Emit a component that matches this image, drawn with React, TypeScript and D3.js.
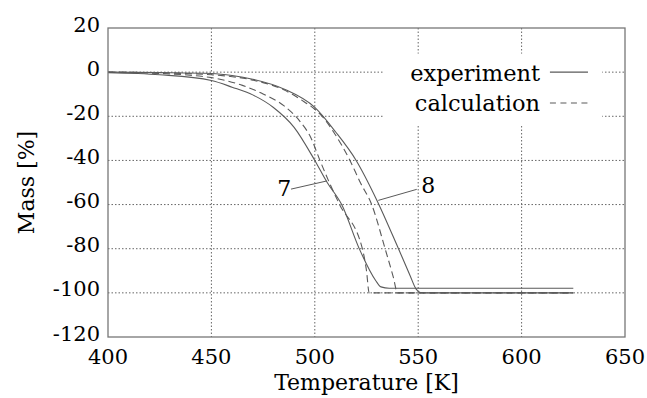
import * as d3 from "d3";

// experiment (solid) and calculation (dashed) curves
const tempExp7 = [400, 425, 450, 460, 470, 480, 490, 500, 506, 513, 521.5, 529.5, 532, 536, 625];
const massExp7 = [-0.3, -1.2, -3.8, -6.8, -10.3, -16, -25, -40, -50, -60, -80, -94.5, -97.3, -97.9, -97.9];

const tempCalc7 = [400, 425, 450, 465, 475, 485, 493, 498, 502.5, 507, 512, 523, 525, 526.3, 625];
const massCalc7 = [0, -0.6, -2.5, -6, -9.9, -15.2, -22.5, -29.5, -40, -50, -60, -80, -90, -100, -100];

const tempExp8 = [400, 425, 450, 460, 470, 485, 500, 510, 520, 530, 540, 546, 549, 551, 553, 625];
const massExp8 = [0, -0.2, -0.6, -1.5, -3.2, -7.6, -16, -27, -40, -58, -79, -92, -98.3, -99.8, -100, -100];

const tempCalc8 = [400, 425, 450, 470, 485, 495, 500, 504, 509, 517, 522, 527.5, 534, 538, 540, 625];
const massCalc8 = [0, -0.3, -1.2, -3.6, -8, -13.5, -16.8, -20.5, -27, -40, -50, -60, -80, -93, -100, -100];

const xTicks = [400, 450, 500, 550, 600, 650];
const yTicks = [20, 0, -20, -40, -60, -80, -100, -120];

const legendItems = ["experiment", "calculation"];

const width = 647;
const height = 398;
const margin = { top: 28, right: 22, bottom: 61, left: 108 };
const innerWidth = width - margin.left - margin.right;
const innerHeight = height - margin.top - margin.bottom;

const font = "'DejaVu Serif', 'Liberation Serif', serif";
const curveColor = "#5a5a5a";
const textColor = "#000";

const App = () => {
  const xScale = d3.scaleLinear().domain([400, 650]).range([0, innerWidth]);
  const yScale = d3.scaleLinear().domain([-120, 20]).range([innerHeight, 0]);

  const line = d3
    .line<[number, number]>()
    .x((d) => xScale(d[0]))
    .y((d) => yScale(d[1]))
    .curve(d3.curveMonotoneX);

  const zip = (t: number[], m: number[]) =>
    t.map((v, i) => [v, m[i]] as [number, number]);

  const curves = [
    { pts: zip(tempExp7, massExp7), dash: "none" },
    { pts: zip(tempCalc7, massCalc7), dash: "7,4" },
    { pts: zip(tempExp8, massExp8), dash: "none" },
    { pts: zip(tempCalc8, massCalc8), dash: "7,4" },
  ];

  return (
    <div style={{ position: "fixed", left: 0, top: 0 }}>
      <svg width={width} height={height} style={{ background: "#fff", display: "block" }}>
        <g transform={`translate(${margin.left},${margin.top})`}>
          {/* grid */}
          {yTicks.slice(1, -1).map((t) => (
            <line
              key={"gy" + t}
              x1={0}
              x2={innerWidth}
              y1={yScale(t)}
              y2={yScale(t)}
              stroke="#666"
              strokeWidth={1}
              strokeDasharray="1.5,2"
            />
          ))}
          {xTicks.slice(1, -1).map((t) => (
            <line
              key={"gx" + t}
              x1={xScale(t)}
              x2={xScale(t)}
              y1={0}
              y2={innerHeight}
              stroke="#666"
              strokeWidth={1}
              strokeDasharray="1.5,2"
            />
          ))}

          {/* legend background */}
          <rect
            x={xScale(533)}
            y={yScale(8.4)}
            width={xScale(639) - xScale(533)}
            height={yScale(-24.3) - yScale(8.4)}
            fill="#fff"
          />

          {/* curves */}
          {curves.map((c, i) => (
            <path
              key={i}
              d={line(c.pts) ?? ""}
              fill="none"
              stroke={curveColor}
              strokeWidth={1.1}
              strokeDasharray={c.dash}
            />
          ))}

          {/* curve labels */}
          <line
            x1={xScale(488.5)}
            y1={yScale(-53)}
            x2={xScale(505.8)}
            y2={yScale(-49.3)}
            stroke={curveColor}
            strokeWidth={1}
          />
          <text x={xScale(481.8)} y={yScale(-56.1)} fontFamily={font} fontSize={22} fill={textColor}>
            7
          </text>
          <line
            x1={xScale(549.3)}
            y1={yScale(-53.1)}
            x2={xScale(530.7)}
            y2={yScale(-58.1)}
            stroke={curveColor}
            strokeWidth={1}
          />
          <text x={xScale(551.5)} y={yScale(-54.6)} fontFamily={font} fontSize={22} fill={textColor}>
            8
          </text>

          {/* legend */}
          {legendItems.map((name, i) => (
            <g key={name}>
              <text
                x={xScale(608.9)}
                y={yScale(-3.8 - i * 13.7)}
                textAnchor="end"
                fontFamily={font}
                fontSize={22.5}
                fill={textColor}
              >
                {name}
              </text>
              <line
                x1={xScale(613.7)}
                x2={xScale(632.1)}
                y1={yScale(0 - i * 14)}
                y2={yScale(0 - i * 14)}
                stroke={curveColor}
                strokeWidth={1.1}
                strokeDasharray={i === 0 ? "none" : "6,4.5"}
              />
            </g>
          ))}

          {/* frame */}
          <rect
            x={0}
            y={0}
            width={innerWidth}
            height={innerHeight}
            fill="none"
            stroke="#777"
            strokeWidth={1.3}
          />

          {/* tick labels */}
          {xTicks.map((t) => (
            <text
              key={"tx" + t}
              x={xScale(t)}
              y={innerHeight + 27}
              textAnchor="middle"
              fontFamily={font}
              fontSize={21}
              fill={textColor}
            >
              {t}
            </text>
          ))}
          {yTicks.map((t) => (
            <text
              key={"ty" + t}
              x={-8}
              y={yScale(t) + 3.5}
              textAnchor="end"
              fontFamily={font}
              fontSize={21}
              fill={textColor}
            >
              {t}
            </text>
          ))}

          {/* axis titles */}
          <text
            x={innerWidth / 2}
            y={innerHeight + 53}
            textAnchor="middle"
            fontFamily={font}
            fontSize={22}
            fill={textColor}
          >
            Temperature [K]
          </text>
          <text
            transform={`translate(${-74},${innerHeight / 2}) rotate(-90)`}
            textAnchor="middle"
            fontFamily={font}
            fontSize={22}
            fill={textColor}
          >
            Mass [%]
          </text>
        </g>
      </svg>
    </div>
  );
};

export default App;
